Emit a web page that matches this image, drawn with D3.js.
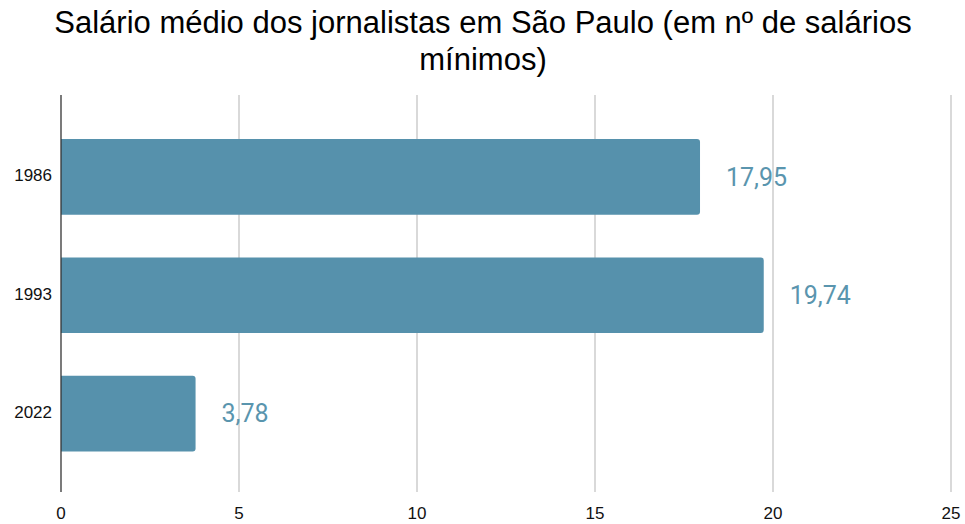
<!DOCTYPE html>
<html><head><meta charset="utf-8">
<script src="https://cdn.jsdelivr.net/npm/d3@7"></script>
<style>body{margin:0;background:#fff;}</style>
</head><body>
<svg id="c" width="965" height="524"></svg>
<script>
const categories = ["1986", "1993", "2022"];
const values = [17.95, 19.74, 3.78];
const valueLabels = ["17,95", "19,74", "3,78"];
const xTicks = [0, 5, 10, 15, 20, 25];
const titleLines = ["Salário médio dos jornalistas em São Paulo (em nº de salários", "mínimos)"];

const svg = d3.select("#c");
const m = {left: 61, right: 14, top: 95, bottom: 32};
const W = 965, H = 524;
const x = d3.scaleLinear().domain([0, 25]).range([m.left, W - m.right]);
const y = d3.scaleBand().domain(categories).range([96.5, 494]).paddingInner(0.36).paddingOuter(0.36);

svg.append("g").selectAll("text").data(titleLines).join("text")
  .attr("x", 483).attr("y", (d, i) => 33 + i * 36.5)
  .attr("text-anchor", "middle")
  .style("font-family", "'Liberation Sans', Arial, sans-serif")
  .style("font-size", "31px").style("fill", "#000").text(d => d);

// gridlines
svg.append("g").selectAll("line").data(xTicks.filter(d => d > 0)).join("line")
  .attr("x1", d => x(d)).attr("x2", d => x(d))
  .attr("y1", m.top).attr("y2", H - m.bottom)
  .attr("stroke", "#cccccc").attr("stroke-width", 1.5);

// bars with rounded right corners
const r = 3;
svg.append("g").selectAll("path").data(categories).join("path")
  .attr("d", (c, i) => {
    const x0 = x(0), x1 = x(values[i]), y0 = y(c), h = y.bandwidth();
    return `M${x0},${y0}H${x1 - r}Q${x1},${y0} ${x1},${y0 + r}V${y0 + h - r}Q${x1},${y0 + h} ${x1 - r},${y0 + h}H${x0}Z`;
  })
  .attr("fill", "#5691ac");

// value labels
svg.append("g").selectAll("text").data(categories).join("text")
  .attr("x", (c, i) => x(values[i]) + 26)
  .attr("y", c => y(c) + y.bandwidth() / 2)
  .attr("dy", "0.35em")
  .style("font-family", "Roboto, sans-serif").style("font-size", "25px")
  .style("fill", "#5a95ae").text((c, i) => valueLabels[i]);

// y axis line
svg.append("line").attr("x1", x(0)).attr("x2", x(0)).attr("y1", m.top).attr("y2", H - m.bottom)
  .attr("stroke", "#333").attr("stroke-width", 1.3);

// y labels
svg.append("g").selectAll("text").data(categories).join("text")
  .attr("x", 52).attr("y", c => y(c) + y.bandwidth() / 2 - 1.5).attr("dy", "0.35em")
  .attr("text-anchor", "end")
  .style("font-family", "'Liberation Sans', Arial, sans-serif").style("font-size", "17px")
  .style("fill", "#111").text(d => d);

// x labels
svg.append("g").selectAll("text").data(xTicks).join("text")
  .attr("x", d => x(d)).attr("y", 519).attr("text-anchor", "middle")
  .style("font-family", "'Liberation Sans', Arial, sans-serif").style("font-size", "17px")
  .style("fill", "#111").text(d => d);
</script>
</body></html>
